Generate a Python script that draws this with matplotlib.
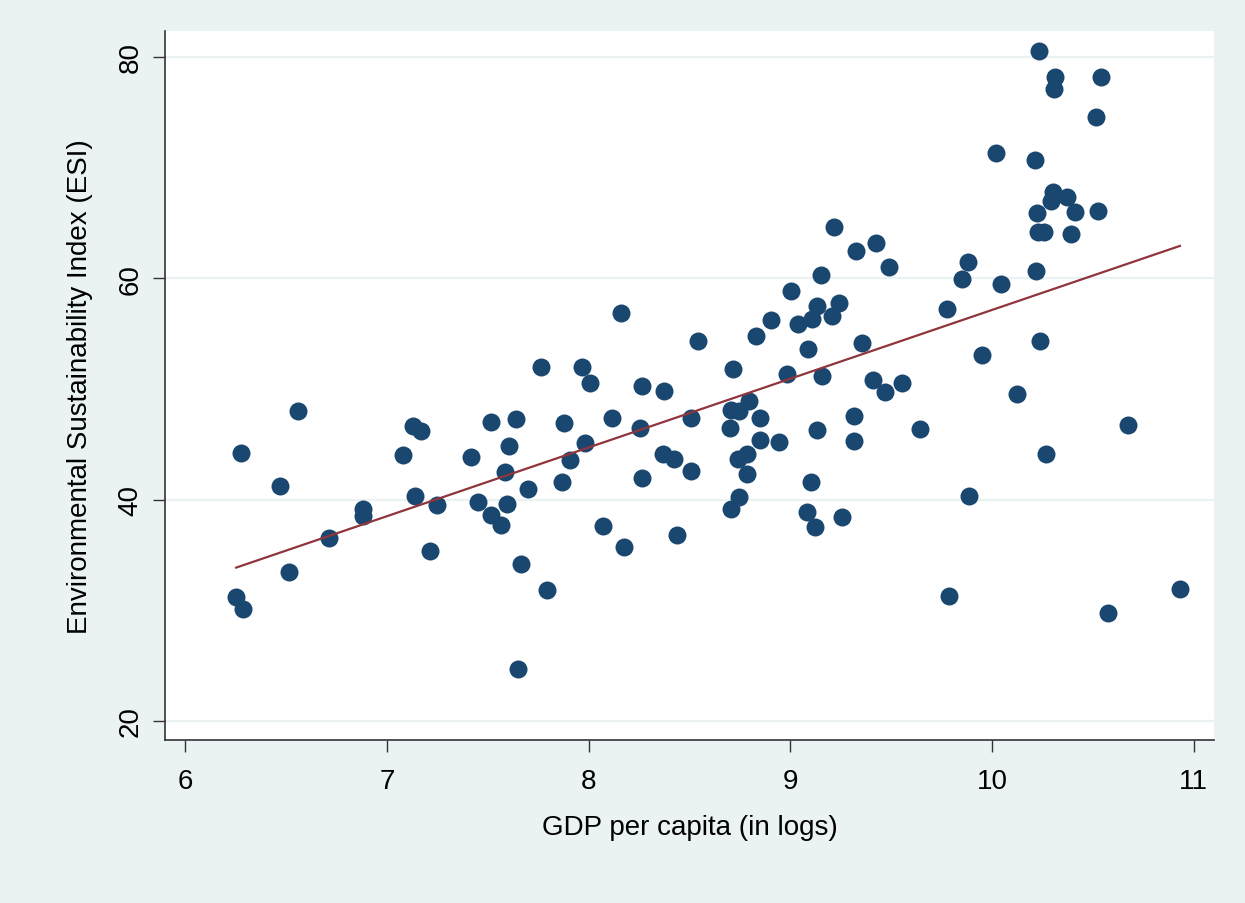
"""ESI vs log GDP per capita scatter with linear fit, Stata-like styling."""

import matplotlib

matplotlib.use("Agg")
import matplotlib.pyplot as plt
import numpy as np

# values
gdp_log = [
    6.278, 6.558, 6.469, 6.712, 6.880, 6.880, 6.515, 6.253, 6.287, 7.079,
    7.130, 7.171, 7.138, 7.247, 7.216, 7.419, 7.515, 7.639, 7.607, 7.584,
    7.453, 7.594, 7.516, 7.564, 7.700, 7.665, 7.795, 7.649, 7.880, 7.981,
    7.906, 7.870, 8.005, 7.763, 7.966, 8.161, 9.216, 9.325, 9.424, 9.490,
    9.153, 9.001, 9.133, 9.242, 9.208, 9.109, 9.039, 8.902, 8.831, 8.541,
    9.355, 9.086, 8.714, 8.985, 9.155, 9.408, 9.555, 9.470, 8.265, 8.374,
    8.116, 8.253, 8.506, 8.706, 8.745, 8.795, 8.849, 8.702, 9.133, 9.315,
    9.642, 9.315, 8.848, 8.942, 8.369, 8.425, 8.742, 8.783, 8.509, 8.783,
    8.263, 9.102, 8.744, 8.704, 8.073, 8.174, 8.440, 9.081, 9.120, 9.257,
    10.234, 10.311, 10.306, 10.539, 10.513, 10.020, 10.215, 10.300, 10.369, 10.290,
    10.222, 10.410, 10.523, 10.227, 10.257, 10.391, 9.882, 9.850, 10.042, 10.220,
    9.776, 10.240, 9.951, 10.123, 10.672, 10.268, 9.888, 9.787, 10.577, 10.931,
]
esi = [
    44.20, 47.97, 41.25, 36.50, 39.14, 38.54, 33.48, 31.16, 30.08, 44.00,
    46.67, 46.16, 40.29, 39.50, 35.38, 43.87, 46.97, 47.27, 44.86, 42.51,
    39.77, 39.59, 38.60, 37.70, 40.92, 34.17, 31.80, 24.69, 46.88, 45.13,
    43.60, 41.61, 50.52, 51.95, 51.94, 56.87, 64.59, 62.48, 63.20, 60.98,
    60.28, 58.81, 57.45, 57.72, 56.60, 56.30, 55.88, 56.21, 54.80, 54.29,
    54.11, 53.60, 51.79, 51.34, 51.18, 50.80, 50.50, 49.68, 50.28, 49.77,
    47.39, 46.43, 47.33, 48.08, 47.97, 48.93, 47.39, 46.49, 46.31, 47.57,
    46.37, 45.31, 45.40, 45.17, 44.14, 43.66, 43.66, 44.11, 42.60, 42.28,
    41.91, 41.61, 40.20, 39.14, 37.61, 35.68, 36.79, 38.90, 37.49, 38.39,
    80.49, 78.14, 77.08, 78.19, 74.58, 71.27, 70.67, 67.80, 67.35, 66.99,
    65.85, 66.00, 66.09, 64.14, 64.14, 63.98, 61.43, 59.92, 59.47, 60.61,
    57.21, 54.29, 53.08, 49.50, 46.76, 44.08, 40.32, 31.28, 29.77, 31.91,
]
x_ticks = [6, 7, 8, 9, 10, 11]
y_ticks = [20, 40, 60, 80]
x_label = "GDP per capita (in logs)"
y_label = "Environmental Sustainability Index (ESI)"

BG = "#EAF2F3"
DOT = "#1A476F"
FIT = "#90353B"
AXIS = "#333333"

plt.rcParams["font.family"] = ["Liberation Sans", "DejaVu Sans"]

x = np.array(gdp_log)
y = np.array(esi)
slope, intercept = np.polyfit(x, y, 1)
fit_x = np.array([x.min(), x.max()])
fit_y = intercept + slope * fit_x

fig = plt.figure(figsize=(12.45, 9.04), dpi=100, facecolor=BG)
ax = fig.add_axes([0.1328, 0.1803, 0.8423, 0.7846])
ax.set_facecolor("white")

ax.scatter(x, y, s=168, color=DOT, linewidths=0, zorder=3)
ax.plot(fit_x, fit_y, color=FIT, linewidth=1.6, zorder=4)

ax.set_xlim(5.902, 11.10)
ax.set_ylim(18.28, 82.35)
ax.set_xticks(x_ticks)
ax.set_yticks(y_ticks)
ax.yaxis.grid(True, color=BG, linewidth=1.6)
ax.set_axisbelow(True)

for side in ("top", "right"):
    ax.spines[side].set_visible(False)
for side in ("left", "bottom"):
    ax.spines[side].set_color(AXIS)
    ax.spines[side].set_linewidth(1.2)

ax.tick_params(axis="both", direction="out", length=8.5, width=1.0,
               color=AXIS, labelsize=20, labelcolor="black")
ax.tick_params(axis="x", pad=12)
ax.tick_params(axis="y", pad=7)
for lab in ax.get_yticklabels():
    lab.set_rotation(90)
    lab.set_va("center")

ax.set_xlabel(x_label, fontsize=20, labelpad=14)
ax.set_ylabel(y_label, fontsize=20, labelpad=18)

fig.savefig("out.png", dpi=100, facecolor=BG)
